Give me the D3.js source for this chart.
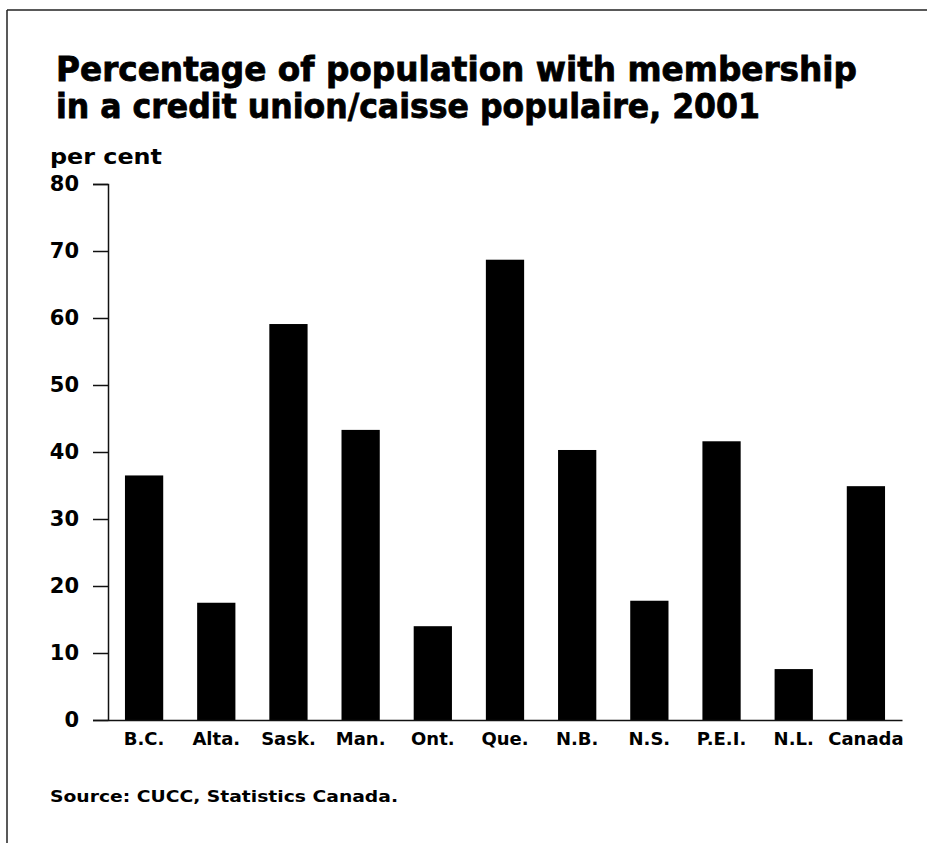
<!DOCTYPE html>
<html>
<head>
<meta charset="utf-8">
<script src="https://cdn.jsdelivr.net/npm/d3@7"></script>
<style>
  html, body { margin: 0; padding: 0; background: #fff; }
  svg { display: block; }
  text { font-family: "DejaVu Sans", "Liberation Sans", Arial, sans-serif; fill: #000; }
</style>
</head>
<body>
<svg id="chart" width="927" height="843"></svg>
<script>
// ---- data ----
const categories = ["B.C.", "Alta.", "Sask.", "Man.", "Ont.", "Que.", "N.B.", "N.S.", "P.E.I.", "N.L.", "Canada"];
const values = [36.5, 17.5, 59.1, 43.3, 14.0, 68.7, 40.3, 17.8, 41.6, 7.6, 34.9];
const yTicks = [0, 10, 20, 30, 40, 50, 60, 70, 80];
const titleLines = ["Percentage of population with membership", "in a credit union/caisse populaire, 2001"];
const unitLabel = "per cent";
const sourceText = "Source: CUCC, Statistics Canada.";

// ---- layout ----
const svg = d3.select("#chart");
const x0 = 108, x1 = 902, yTop = 184, yBase = 720;

const x = d3.scaleBand().domain(categories).range([x0, x1]).paddingInner(0.47).paddingOuter(0.235);
const y = d3.scaleLinear().domain([0, 80]).range([yBase, yTop]);

// frame (left and top edges of scanned box)
svg.append("line").attr("x1", 7).attr("x2", 927).attr("y1", 10).attr("y2", 10)
  .attr("stroke", "#222").attr("stroke-width", 1.5);
svg.append("line").attr("x1", 7).attr("x2", 7).attr("y1", 10).attr("y2", 843)
  .attr("stroke", "#222").attr("stroke-width", 1.5);

// title
svg.append("g").selectAll("text").data(titleLines).join("text")
  .attr("x", 56).attr("y", (d, i) => 81 + i * 37)
  .attr("font-size", 33).attr("font-weight", "bold")
  .attr("stroke", "#000").attr("stroke-width", 0.8)
  .attr("textLength", (d, i) => i === 0 ? 801 : 704)
  .attr("lengthAdjust", "spacingAndGlyphs")
  .text(d => d);

// unit label
svg.append("text").attr("x", 50).attr("y", 164)
  .attr("font-size", 22).attr("font-weight", "bold")
  .attr("textLength", 112).attr("lengthAdjust", "spacingAndGlyphs")
  .text(unitLabel);

// bars
svg.append("g").selectAll("rect").data(values).join("rect")
  .attr("x", (d, i) => x(categories[i]))
  .attr("width", x.bandwidth())
  .attr("y", d => y(d))
  .attr("height", d => y(0) - y(d))
  .attr("fill", "#000");

// y axis
const yAxis = svg.append("g").attr("transform", `translate(${x0},0)`)
  .call(d3.axisLeft(y).tickValues(yTicks).tickSize(15).tickSizeOuter(15).tickPadding(14).tickFormat(d3.format("d")));
yAxis.selectAll("text").attr("font-size", 21).attr("font-weight", "bold")
  .attr("font-family", "DejaVu Sans, Liberation Sans, sans-serif").attr("fill", "#000");
yAxis.selectAll("line, path").attr("stroke", "#111").attr("stroke-width", 1.5);

// x axis
const xAxis = svg.append("g").attr("transform", `translate(0,${yBase})`)
  .call(d3.axisBottom(x).tickSize(0).tickSizeOuter(0).tickPadding(12));
xAxis.select(".domain").attr("stroke", "#111").attr("stroke-width", 1.5);
xAxis.selectAll("text").attr("font-size", 18).attr("font-weight", "bold")
  .attr("font-family", "DejaVu Sans, Liberation Sans, sans-serif").attr("fill", "#000");

// source
svg.append("text").attr("x", 50).attr("y", 802)
  .attr("font-size", 16).attr("font-weight", "bold")
  .attr("textLength", 348).attr("lengthAdjust", "spacingAndGlyphs")
  .text(sourceText);
</script>
</body>
</html>
